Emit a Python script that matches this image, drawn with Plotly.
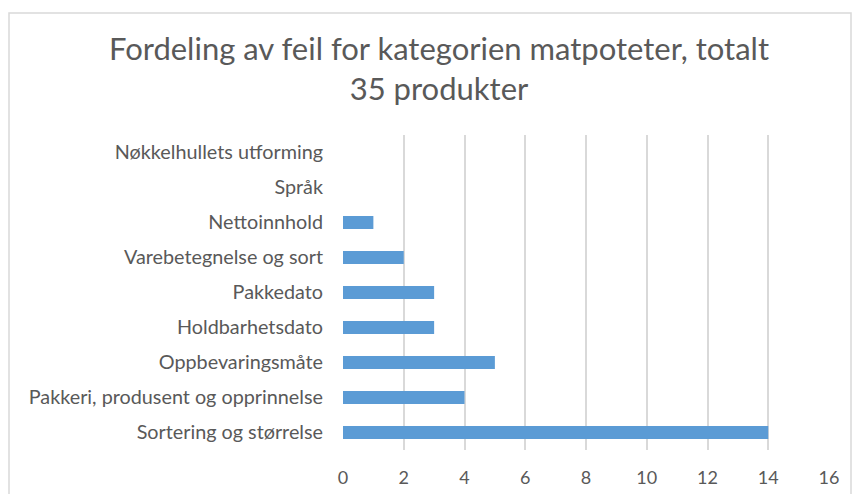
import plotly.graph_objects as go

# Data, listed bottom to top as drawn
categories = [
    "Sortering og størrelse",
    "Pakkeri, produsent og opprinnelse",
    "Oppbevaringsmåte",
    "Holdbarhetsdato",
    "Pakkedato",
    "Varebetegnelse og sort",
    "Nettoinnhold",
    "Språk",
    "Nøkkelhullets utforming",
]
counts = [14, 4, 5, 3, 3, 2, 1, 0, 0]
x_ticks = [0, 2, 4, 6, 8, 10, 12, 14, 16]

TEXT = "#595959"
GRID = "#D9D9D9"
BAR = "#5B9BD5"
FONT = "Lato"

W, H = 853, 494
L, R, T, B = 343, 24, 135, 44

fig = go.Figure(
    go.Bar(
        x=counts,
        y=categories,
        orientation="h",
        marker=dict(color=BAR, line=dict(width=0)),
    )
)


def px_x(p):
    return (p - L) / (W - L - R)


def px_y(p):
    return (H - B - p) / (H - T - B)


# outer chart border (light grey frame)
fig.add_shape(
    type="rect",
    xref="paper", yref="paper",
    x0=px_x(9), x1=px_x(851), y0=px_y(520), y1=px_y(13),
    line=dict(color="#D9D9D9", width=1.5),
    layer="below",
)

fig.update_xaxes(
    range=[0, 16],
    tickvals=x_ticks,
    showgrid=True,
    gridcolor=GRID,
    gridwidth=1.5,
    zeroline=False,
    showline=False,
    ticks="",
    ticklabelstandoff=15,
    tickfont=dict(size=18, color=TEXT, family=FONT),
    automargin=False,
    fixedrange=True,
)
fig.update_yaxes(
    categoryorder="array",
    categoryarray=categories,
    showgrid=False,
    zeroline=False,
    showline=False,
    ticks="",
    ticklabelstandoff=19,
    tickfont=dict(size=19.8, color=TEXT, family=FONT),
    automargin=False,
    fixedrange=True,
)

fig.update_layout(
    width=W,
    height=H,
    bargap=0.63,
    plot_bgcolor="white",
    paper_bgcolor="white",
    showlegend=False,
    margin=dict(l=L, r=R, t=T, b=B),
    font=dict(family=FONT, color=TEXT),
    title=dict(
        text="Fordeling av feil for kategorien matpoteter, totalt<br>35 produkter",
        x=(108 + 770) / 2 / W,
        xanchor="center",
        y=1 - 60 / H,
        yanchor="middle",
        font=dict(size=31, color=TEXT, family=FONT),
    ),
)

fig.write_html(
    "out.html",
    config={"displayModeBar": False},
    post_script="document.body.style.margin = '0';",
)
